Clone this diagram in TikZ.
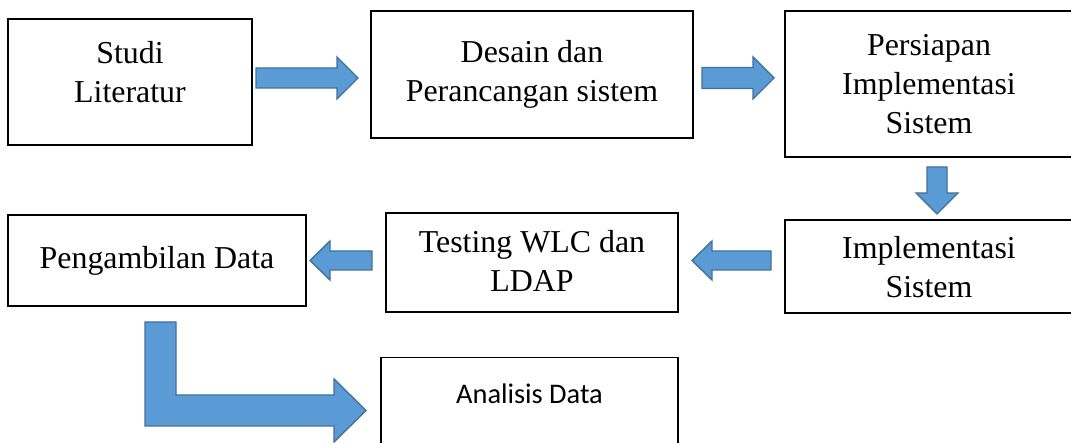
\documentclass[tikz,border=0pt]{standalone}
\usepackage{fontspec}
\setmainfont{Liberation Serif}
\newfontfamily\calibrilike{Carlito}
% stacked centred lines, moved up (or down) by #1 without changing their box
\newcommand\liftlines[2]{\raisebox{#1}[\height][\depth]{\begin{tabular}{@{}c@{}}#2\end{tabular}}}
\begin{document}
\begin{tikzpicture}[x=1bp,y=-1bp,
  box/.style={draw=black,line width=1.3bp,fill=white,inner sep=0pt,align=center,
    font=\fontsize{32}{39}\selectfont},
  boldbox/.style={box,line width=2.2bp},
  blockarrow/.style={fill={rgb,255:red,91;green,155;blue,213},
    draw={rgb,255:red,65;green,113;blue,156},line width=1.4bp,line join=miter}]
\newcommand\hblock[6]{% tail x, tip x, centre y, half shaft, half head, head length (signed)
  \filldraw[blockarrow] (#1,#3-#4) -- ({#2-(#6)},#3-#4) -- ({#2-(#6)},#3-#5) -- (#2,#3)
    -- ({#2-(#6)},#3+#5) -- ({#2-(#6)},#3+#4) -- (#1,#3+#4) -- cycle;}
\newcommand\vblock[6]{% tail y, tip y, centre x, half shaft, half head, head length (signed)
  \filldraw[blockarrow] (#3-#4,#1) -- (#3-#4,{#2-(#6)}) -- (#3-#5,{#2-(#6)}) -- (#3,#2)
    -- (#3+#5,{#2-(#6)}) -- (#3+#4,{#2-(#6)}) -- (#3+#4,#1) -- cycle;}
\useasboundingbox (0,0) rectangle (1071,443);
\fill[white] (0,0) rectangle (1071,443);
\clip (0,0) rectangle (1071,443);

% process steps
\node[box,minimum width=244bp,minimum height=126bp] (lit) at (130,82) {\liftlines{7bp}{Studi\\Literatur}};
\node[box,minimum width=322bp,minimum height=127bp] (desain) at (532,74.5) {Desain dan\\Perancangan sistem};
\node[boldbox,minimum width=288bp,minimum height=146bp] (persiapan) at (929,84) {Persiapan\\Implementasi\\Sistem};
\node[boldbox,minimum width=288bp,minimum height=93bp] (impl) at (929,266.5) {\liftlines{-4bp}{Implementasi\\Sistem}};
\node[boldbox,minimum width=292bp,minimum height=99bp] (testing) at (532,262.5) {\liftlines{-2bp}{Testing WLC dan\\LDAP}};
\node[box,minimum width=298bp,minimum height=91bp] (ambil) at (157,260.5) {Pengambilan Data};
\node[box,anchor=north,minimum width=297bp,text height=46bp,text depth=60bp,
  font=\calibrilike\fontsize{28.5}{34}\selectfont] (analisis) at (529.5,357) {Analisis Data};

% block arrows between the steps
\hblock{256}{358}{78}{10}{21}{21}     % lit -> desain
\hblock{702}{774}{78}{10.5}{21}{21}   % desain -> persiapan
\vblock{167}{214}{937}{10}{21}{21}    % persiapan -> impl
\hblock{771}{692}{260.5}{9.5}{19.5}{-20} % impl -> testing
\hblock{372}{310}{260.5}{9.5}{19.5}{-20} % testing -> ambil
% elbow arrow: ambil -> analisis
\filldraw[blockarrow] (145,322) -- (176,322) -- (176,395) -- (334,395) -- (334,379)
  -- (366,410.5) -- (334,442) -- (334,426) -- (145,426) -- cycle;
\end{tikzpicture}
\end{document}
